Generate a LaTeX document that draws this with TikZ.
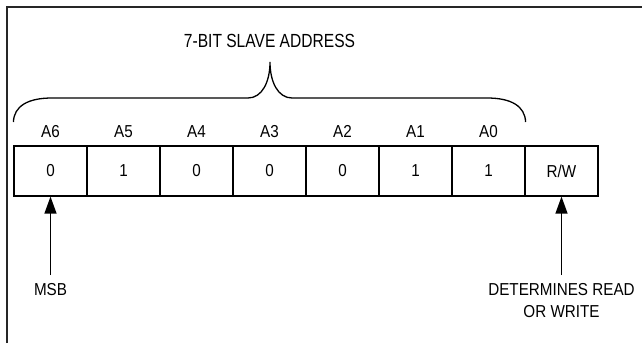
\documentclass[tikz,border=0pt]{standalone}
\usepackage{fontspec}
\setmainfont{Liberation Sans}[FakeStretch=0.88]
\newfontfamily\ttlfont{Liberation Sans}[FakeStretch=0.82]
\usetikzlibrary{arrows.meta}
\begin{document}
\begin{tikzpicture}[x=1pt,y=-1pt,
  frameline/.style={line width=2pt,draw=black!85},
  bitbox/.style={draw,line width=1.2pt,minimum width=73pt,minimum height=50pt,inner sep=0pt,
     font=\fontsize{17.3}{20}\selectfont},
  lbl/.style={inner sep=0pt,font=\fontsize{17.3}{20}\selectfont},
  ttl/.style={inner sep=0pt,font=\ttlfont\fontsize{19}{22}\selectfont},
  bracestyle/.style={line width=1.3pt},
  arr/.style={line width=1.3pt,-{Triangle[length=17pt,width=12pt]}}]
\useasboundingbox (0,0) rectangle (642,343);
\draw[frameline] (6.5,343) -- (6.5,6.5) -- (642,6.5);
% boxes
\foreach \i/\v/\a in {1/0/A6,2/1/A5,3/0/A4,4/0/A3,5/0/A2,6/1/A1,7/1/A0}{
  \node[bitbox] (b\i) at ({14+36.5+73*(\i-1)},171) {\v};
  \node[lbl,anchor=base] (l\i) at ({14+36.5+73*(\i-1)},137.5) {\a};
}
\node[bitbox] (b8) at ({14+36.5+73*7},171) {R/W};
% title and brace
\node[ttl,anchor=base] (title) at (269.5,47) {7-BIT SLAVE ADDRESS};
\draw[bracestyle] (b1.west |- 0,122) .. controls (14,106) and (28,98) .. (52,98)
   -- (248,98) .. controls (262,98) and (270,82) .. (270,62)
   .. controls (270,82) and (278,98) .. (292,98)
   -- (487,98) .. controls (511,98) and (525,106) .. (b7.east |- 0,122);
% bottom labels and arrows
\node[lbl,anchor=north,inner ysep=8pt] (msb) at (b1.center |- 0,275) {MSB};
\node[lbl,anchor=north,inner ysep=8pt,align=center,font=\fontsize{17.3}{22.5}\selectfont] (rw) at (b8.center |- 0,275) {DETERMINES READ\\OR WRITE};
\draw[arr] (msb.north) -- (b1.south);
\draw[arr] (rw.north) -- (b8.south);
\end{tikzpicture}
\end{document}
